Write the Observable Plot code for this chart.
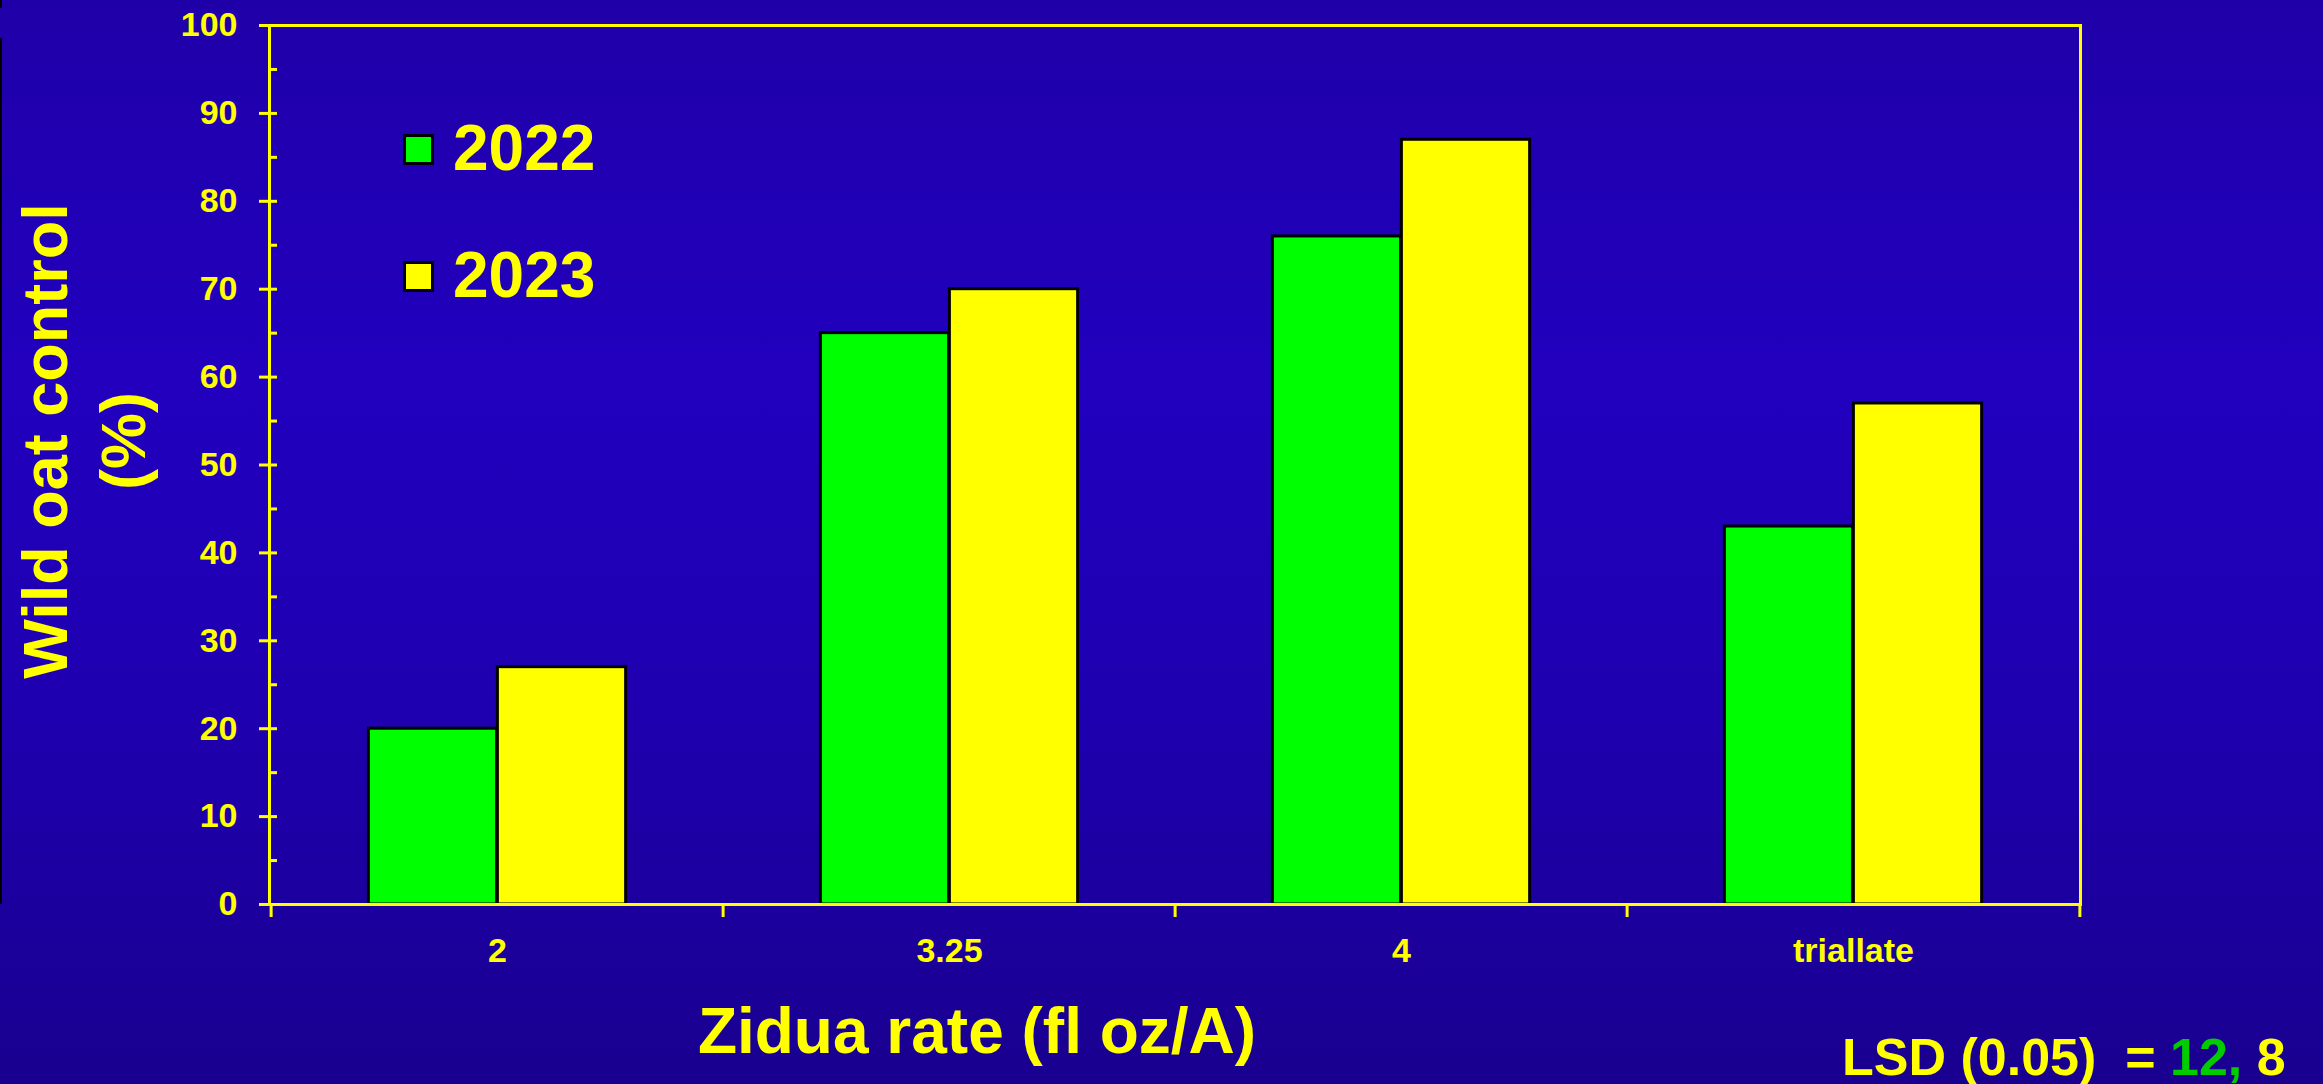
<!DOCTYPE html>
<html>
<head>
<meta charset="utf-8">
<script src="https://cdn.jsdelivr.net/npm/d3@7"></script>
<script src="https://cdn.jsdelivr.net/npm/@observablehq/plot@0.6"></script>
<style>
  html, body { margin: 0; padding: 0; }
  body {
    width: 2323px; height: 1084px; overflow: hidden;
    background: linear-gradient(to bottom, #1f00a8 0%, #2200bf 35%, #1f00b0 65%, #19008f 100%);
    font-family: "Liberation Sans", Arial, Helvetica, sans-serif;
    font-weight: bold;
    color: #ffff00;
  }
  #wrap { position: relative; width: 2323px; height: 1084px; }
  #chart { position: absolute; left: 0; top: 0; }
  .abs { position: absolute; white-space: pre; line-height: 1; }
  .swatch { position: absolute; width: 31px; height: 31px; box-sizing: border-box; border: 3px solid #000; }
</style>
</head>
<body>
<div id="wrap">
  <div style="position:absolute;left:0;top:0;width:2px;height:8px;background:#000"></div>
  <div style="position:absolute;left:0;top:38px;width:2px;height:866px;background:#000"></div>
  <div id="chart"></div>
  <div id="ytitle" class="abs" style="left:-216.5px;top:363px;width:600px;height:156px;line-height:78px;font-size:63px;text-align:center;transform:rotate(-90deg);">Wild oat control
(%)</div>
  <div id="legend"></div>
  <div id="xtitle" class="abs" style="left:577px;top:999px;width:800px;text-align:center;font-size:64px;"></div>
  <div id="lsd" class="abs" style="left:1842px;top:1031px;font-size:52px;"></div>
</div>
<script>
// ---- data ----
const categories = ["2", "3.25", "4", "triallate"];
const years = ["2022", "2023"];
const values2022 = [20, 65, 76, 43];
const values2023 = [27, 70, 87, 57];
const seriesColors = ["#00ff00", "#ffff00"];
const yTicks = [0, 10, 20, 30, 40, 50, 60, 70, 80, 90, 100];
const yMinorTicks = [5, 15, 25, 35, 45, 55, 65, 75, 85, 95];
const xTitle = "Zidua rate (fl oz/A)";
const lsdParts = [["LSD (0.05)  = ", "#ffff00"], ["12,", "#00cc00"], [" 8", "#ffff00"]];

// ---- layout ----
const W = 2323, H = 1084;
const mL = 269, mR = 243, mT = 25, mB = 180;
const step = (W - mL - mR) / categories.length;
const barW = 129;
const outer = (step - 2 * barW) / 2;
const yellow = "#ffff00";

const rows2022 = categories.map((c, i) => ({cat: c, v: values2022[i]}));
const rows2023 = categories.map((c, i) => ({cat: c, v: values2023[i]}));

const chart = Plot.plot({
  width: W, height: H,
  marginLeft: mL, marginRight: mR, marginTop: mT, marginBottom: mB,
  style: {background: "transparent", color: yellow, fontFamily: '"Liberation Sans", Arial, sans-serif', fontWeight: "bold", overflow: "visible"},
  x: {domain: categories, padding: 0, label: null},
  y: {domain: [0, 100], label: null},
  marks: [
    Plot.barY(rows2022, {x: "cat", y: "v", fill: seriesColors[0], stroke: "#000", strokeWidth: 3, insetLeft: outer, insetRight: outer + barW}),
    Plot.barY(rows2023, {x: "cat", y: "v", fill: seriesColors[1], stroke: "#000", strokeWidth: 3, insetLeft: outer + barW, insetRight: outer}),
    Plot.frame({stroke: yellow, strokeWidth: 3}),
    Plot.axisY({ticks: yTicks, tickSize: 0, tickPadding: 32, fontSize: 34, label: null}),
    Plot.axisY({ticks: yTicks, tickSize: 18, dx: 8, tickFormat: () => "", strokeWidth: 3, label: null}),
    Plot.axisY({ticks: yMinorTicks, tickSize: 8, dx: 8, tickFormat: () => "", strokeWidth: 3, label: null}),
    Plot.axisX({tickSize: 0, tickPadding: 33, fontSize: 34, label: null}),
    Plot.axisX({tickSize: 13, dx: -step / 2, tickFormat: () => "", strokeWidth: 3, label: null}),
    Plot.axisX({ticks: [categories[categories.length - 1]], tickSize: 13, dx: step / 2, tickFormat: () => "", strokeWidth: 3, label: null})
  ]
});
document.getElementById("chart").appendChild(chart);

// ---- legend ----
const legend = document.getElementById("legend");
const legendBaselines = [170, 297];
const legendFont = 64;
years.forEach((yr, i) => {
  const sw = document.createElement("div");
  sw.className = "swatch";
  sw.style.left = "403px";
  sw.style.top = (legendBaselines[i] - 21 - 15.5) + "px";
  sw.style.background = seriesColors[i];
  legend.appendChild(sw);
  const t = document.createElement("div");
  t.className = "abs";
  t.style.left = "453px";
  t.style.fontSize = legendFont + "px";
  t.style.top = (legendBaselines[i] - 0.8465 * legendFont) + "px";
  t.textContent = yr;
  legend.appendChild(t);
});

document.getElementById("xtitle").textContent = xTitle;
const lsd = document.getElementById("lsd");
lsdParts.forEach(([txt, col]) => {
  const s = document.createElement("span");
  s.textContent = txt;
  s.style.color = col;
  lsd.appendChild(s);
});
</script>
</body>
</html>
